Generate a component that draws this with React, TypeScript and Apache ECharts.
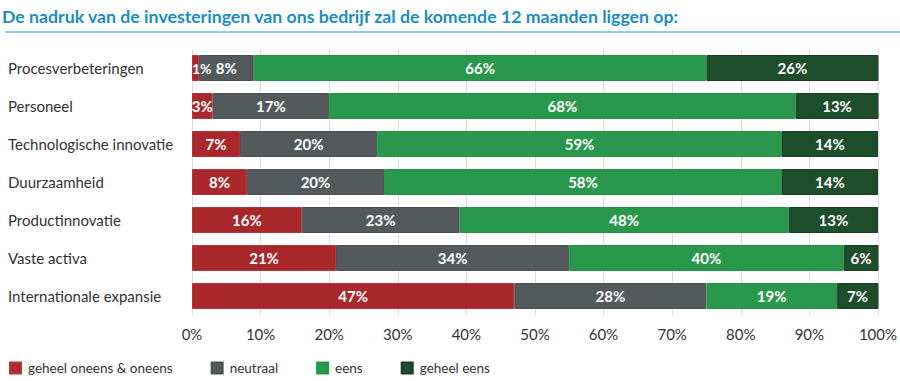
import React, { useEffect, useRef } from "react";
import * as echarts from "echarts";

const title = "De nadruk van de investeringen van ons bedrijf zal de komende 12 maanden liggen op:";
const categories = [
  "Procesverbeteringen",
  "Personeel",
  "Technologische innovatie",
  "Duurzaamheid",
  "Productinnovatie",
  "Vaste activa",
  "Internationale expansie",
];
const seriesNames = ["geheel oneens & oneens", "neutraal", "eens", "geheel eens"];
const disagree = [1, 3, 7, 8, 16, 21, 47];
const neutral = [8, 17, 20, 20, 23, 34, 28];
const agree = [66, 68, 59, 58, 48, 40, 19];
const stronglyAgree = [26, 13, 14, 14, 13, 6, 7];
const xTicks = [0, 10, 20, 30, 40, 50, 60, 70, 80, 90, 100];

const colors = ["#a8282c", "#545a5c", "#2a984c", "#1e4d2b"];
const borders = ["#b73237", "#4a4f51", "#279247", "#183f23"];
const FONT = "Lato";

export default function App() {
  const ref = useRef<HTMLDivElement>(null);
  useEffect(() => {
    if (!ref.current) return;
    const chart = echarts.init(ref.current, null, { renderer: "svg" });
    const data = [disagree, neutral, agree, stronglyAgree];
    chart.setOption({
      animation: false,
      textStyle: { fontFamily: FONT },
      title: {
        text: title,
        left: -3,
        top: 2,
        textStyle: { color: "#1b8dc3", fontSize: 17.7, fontWeight: "bold", fontFamily: FONT },
      },
      graphic: [
        {
          type: "line",
          shape: { x1: 5, y1: 32, x2: 900, y2: 32 },
          style: { stroke: "#6dbde0", lineWidth: 1.5 },
        },
      ],
      legend: {
        left: 4,
        top: 356,
        itemWidth: 11,
        itemHeight: 11,
        itemGap: 38,
        icon: "rect",
        textStyle: { fontSize: 13.5, color: "#333", fontFamily: FONT, padding: [0, 0, 0, 2] },
        data: seriesNames,
      },
      grid: { left: 192, right: 22, top: 49, bottom: 66 },
      xAxis: {
        type: "value",
        min: 0,
        max: 100,
        interval: 10,
        axisLine: { show: false },
        axisTick: { show: false },
        splitLine: { show: true, lineStyle: { color: "#dcdcdc", width: 1 } },
        axisLabel: {
          margin: 11,
          fontSize: 15,
          color: "#333",
          fontFamily: FONT,
          formatter: (v: number) => (xTicks.includes(v) ? v + "%" : ""),
        },
      },
      yAxis: {
        type: "category",
        inverse: true,
        data: categories,
        axisLine: { show: false },
        axisTick: { show: false },
        axisLabel: {
          align: "left",
          margin: 184,
          fontSize: 15,
          color: "#333",
          fontFamily: FONT,
        },
      },
      series: seriesNames.map((name, i) => ({
        name,
        type: "bar",
        stack: "total",
        barWidth: 26,
        clip: true,
        itemStyle: { color: colors[i], borderColor: borders[i], borderWidth: 1 },
        label: {
          show: true,
          position: "inside",
          color: "#fff",
          fontSize: 15,
          fontWeight: "bold",
          fontFamily: FONT,
          formatter: (p: any) => p.value + "%",
        },
        data: data[i].map((v) =>
          v < 3 ? { value: v, label: { position: "insideLeft", distance: 0, fontSize: 14 } } : v
        ),
      })),
    });
    return () => chart.dispose();
  }, []);
  return <div ref={ref} style={{ width: 900, height: 381, position: "absolute", left: 0, top: 0 }} />;
}
